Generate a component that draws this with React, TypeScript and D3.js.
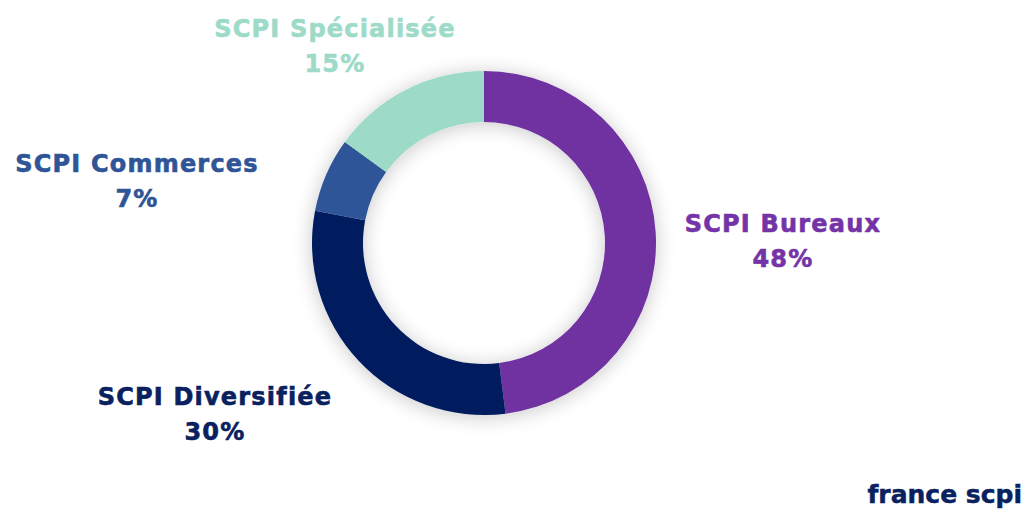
import React from "react";
import * as d3 from "d3";

const categories = ["SCPI Bureaux", "SCPI Diversifiée", "SCPI Commerces", "SCPI Spécialisée"];
const values = [48, 30, 7, 15];
const colors = ["#7030A0", "#001F5F", "#2F5597", "#9DDBC8"];
const labelColors = ["#7434A8", "#0A2160", "#2F5597", "#9DDBC8"];

const W = 1029;
const H = 512;
const cx = 484;
const cy = 243;
const outerR = 172;
const innerR = 121;

// label anchor points (layout only)
const labelPos: [number, number][] = [
  [783, 232],
  [215, 405],
  [137, 172],
  [335, 37],
];

export default function App() {
  const pie = d3
    .pie<number>()
    .sort(null)
    .value((d) => d)
    .startAngle(0)
    .endAngle(2 * Math.PI);
  const arcs = pie(values);
  const arc = d3.arc<d3.PieArcDatum<number>>().innerRadius(innerR).outerRadius(outerR);
  const font = "'DejaVu Sans', sans-serif";
  return (
    <svg
      width={W}
      height={H}
      viewBox={`0 0 ${W} ${H}`}
      style={{ position: "absolute", left: 0, top: 0, background: "#fff" }}
    >
      <defs>
        <filter id="sh" x="-30%" y="-30%" width="160%" height="160%">
          <feGaussianBlur in="SourceAlpha" stdDeviation="10" />
          <feOffset dx="0" dy="2" result="b" />
          <feComponentTransfer>
            <feFuncA type="linear" slope="0.22" />
          </feComponentTransfer>
          <feMerge>
            <feMergeNode />
            <feMergeNode in="SourceGraphic" />
          </feMerge>
        </filter>
      </defs>
      <rect width={W} height={H} fill="#fff" />
      <g transform={`translate(${cx},${cy})`} filter="url(#sh)">
        {arcs.map((a, i) => (
          <path key={i} d={arc(a) || ""} fill={colors[i]} />
        ))}
      </g>
      {categories.map((c, i) => (
        <text
          key={c}
          x={labelPos[i][0]}
          y={labelPos[i][1]}
          textAnchor="middle"
          fontFamily={font}
          fontWeight="bold"
          fontSize={24}
          letterSpacing={1.2}
          stroke={labelColors[i]}
          strokeWidth={0.6}
          fill={labelColors[i]}
        >
          <tspan x={labelPos[i][0]}>{c}</tspan>
          <tspan x={labelPos[i][0]} dy={35}>
            {values[i]}%
          </tspan>
        </text>
      ))}
      <text
        x={1022}
        y={503}
        textAnchor="end"
        fontFamily={font}
        fontWeight="bold"
        fontSize={25}
        letterSpacing={0}
        stroke="#0A2160"
        strokeWidth={0.5}
        fill="#0A2160"
      >
        france scpi
      </text>
    </svg>
  );
}
